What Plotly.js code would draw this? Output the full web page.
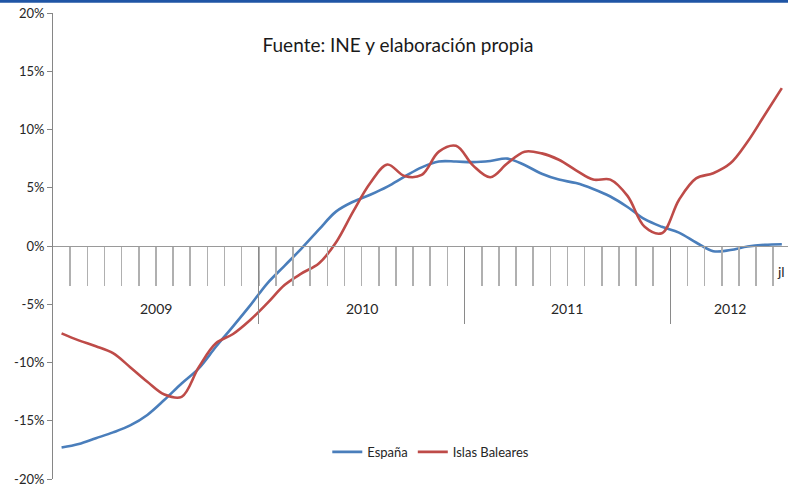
<!DOCTYPE html>
<html><head><meta charset="utf-8">
<script src="https://cdn.plot.ly/plotly-3.0.1.min.js"></script>
<style>html,body{margin:0;padding:0;overflow:hidden;background:#fff}</style>
</head><body><div id="chart" style="width:788px;height:486px"></div>
<script>
const years = ['2009', '2010', '2011', '2012'];
const monthsPerYear = [12, 12, 12, 7];
const lastMonthLabel = 'jl';
const espana = [-17.3,-17.0,-16.5,-16.0,-15.4,-14.5,-13.2,-11.8,-10.5,-8.65,-6.9,-5.1,-3.2,-1.7,-0.2,1.4,2.95,3.8,4.4,5.1,5.95,6.75,7.25,7.25,7.2,7.3,7.5,6.95,6.2,5.7,5.4,4.9,4.25,3.35,2.3,1.65,1.15,0.3,-0.45,-0.35,-0.05,0.1,0.15];
const baleares = [-7.5,-8.1,-8.6,-9.2,-10.4,-11.65,-12.75,-12.95,-10.4,-8.35,-7.55,-6.35,-4.9,-3.35,-2.35,-1.5,0.3,2.95,5.4,7.0,6.0,6.1,8.1,8.6,6.9,5.9,7.1,8.1,7.95,7.4,6.5,5.7,5.7,4.3,1.65,1.1,3.95,5.8,6.25,7.1,8.95,11.25,13.55];
const yTicks = [-20,-15,-10,-5,0,5,10,15,20];
const yTickText = yTicks.map(v => v + '%');
const seriesNames = ['España', 'Islas Baleares'];
const titleText = 'Fuente: INE y elaboración propia';

// month index positions
const x = espana.map((_, i) => i);
const monthLabels = [];
years.forEach((y, yi) => { for (let m = 1; m <= monthsPerYear[yi]; m++) monthLabels.push(y + '-' + String(m).padStart(2, '0')); });
const nMonths = x.length;
// boundaries between months
const monthBounds = [];
for (let k = 1; k < nMonths; k++) monthBounds.push(k - 0.5);
const yearBounds = [];
const yearCenters = [];
let acc = 0;
monthsPerYear.forEach((n, i) => {
  yearCenters.push(acc - 0.5 + n / 2);
  acc += n;
  if (i < monthsPerYear.length - 1) yearBounds.push(acc - 0.5);
});

const font = 'Lato, "Open Sans", sans-serif';
const xr = [-0.5, 42.36];

const traces = [
  {x: x, y: espana, text: monthLabels, name: seriesNames[0], type: 'scatter', mode: 'lines',
   line: {color: '#4A7EBB', width: 2.6, shape: 'spline', smoothing: 1}},
  {x: x, y: baleares, text: monthLabels, name: seriesNames[1], type: 'scatter', mode: 'lines',
   line: {color: '#BE4B48', width: 2.6, shape: 'spline', smoothing: 1}},
  // invisible trace to activate xaxis2
  {x: [x[0]], y: [0], xaxis: 'x2', yaxis: 'y', mode: 'markers', marker: {opacity: 0}, showlegend: false, hoverinfo: 'skip'}
];

const annotations = years.map((y, i) => ({
  x: yearCenters[i], y: -5.35, xref: 'x', yref: 'y', text: y, showarrow: false,
  font: {family: font, size: 14, color: '#262626'}
}));
annotations.push({x: monthBounds[monthBounds.length - 1], y: -2.15, xref: 'x', yref: 'y', text: lastMonthLabel,
  showarrow: false, xanchor: 'left', xshift: 2, font: {family: font, size: 14, color: '#262626'}});

const layout = {
  width: 788, height: 486,
  margin: {l: 53, r: 0, t: 13, b: 7},
  paper_bgcolor: '#fff', plot_bgcolor: '#fff',
  font: {family: font, color: '#262626'},
  title: {text: titleText, x: 398 / 788, xref: 'container', xanchor: 'center',
          y: 1 - 45 / 486, yref: 'container', yanchor: 'middle',
          font: {family: font, size: 19, color: '#1a1a1a'}},
  xaxis: {range: xr, anchor: 'free', position: 0.5, showgrid: false, zeroline: false,
          showline: true, linecolor: '#9a9a9a', linewidth: 1,
          tickmode: 'array', tickvals: monthBounds, ticks: 'outside', ticklen: 39,
          tickcolor: '#b0b0b0', tickwidth: 1.6, showticklabels: false},
  xaxis2: {range: xr, overlaying: 'x', anchor: 'free', position: 0.5, showgrid: false, zeroline: false,
          showline: false, tickmode: 'array', tickvals: yearBounds, ticks: 'outside', ticklen: 77,
          tickcolor: '#8a8a8a', tickwidth: 1, showticklabels: false},
  yaxis: {range: [-20, 20], tickmode: 'array', tickvals: yTicks, ticktext: yTickText,
          showgrid: false, zeroline: false, showline: true, linecolor: '#868686', linewidth: 1,
          ticks: 'outside', ticklen: 5, tickcolor: '#868686', ticklabeloverflow: 'allow',
          tickfont: {family: font, size: 13, color: '#262626'}},
  legend: {orientation: 'h', x: 0.514, xanchor: 'center', y: 0.058, yanchor: 'middle',
           font: {family: font, size: 13, color: '#262626'}, itemwidth: 30, bgcolor: 'rgba(0,0,0,0)'},
  annotations: annotations,
  shapes: [{type: 'rect', xref: 'paper', yref: 'paper', x0: -0.1, x1: 1.01,
            y0: 1 + 10.3 / 465.7, y1: 1 + 14 / 465.7, fillcolor: '#1F55A5', line: {width: 0}}]
};

Plotly.newPlot('chart', traces, layout, {staticPlot: true, displayModeBar: false});
</script></body></html>
